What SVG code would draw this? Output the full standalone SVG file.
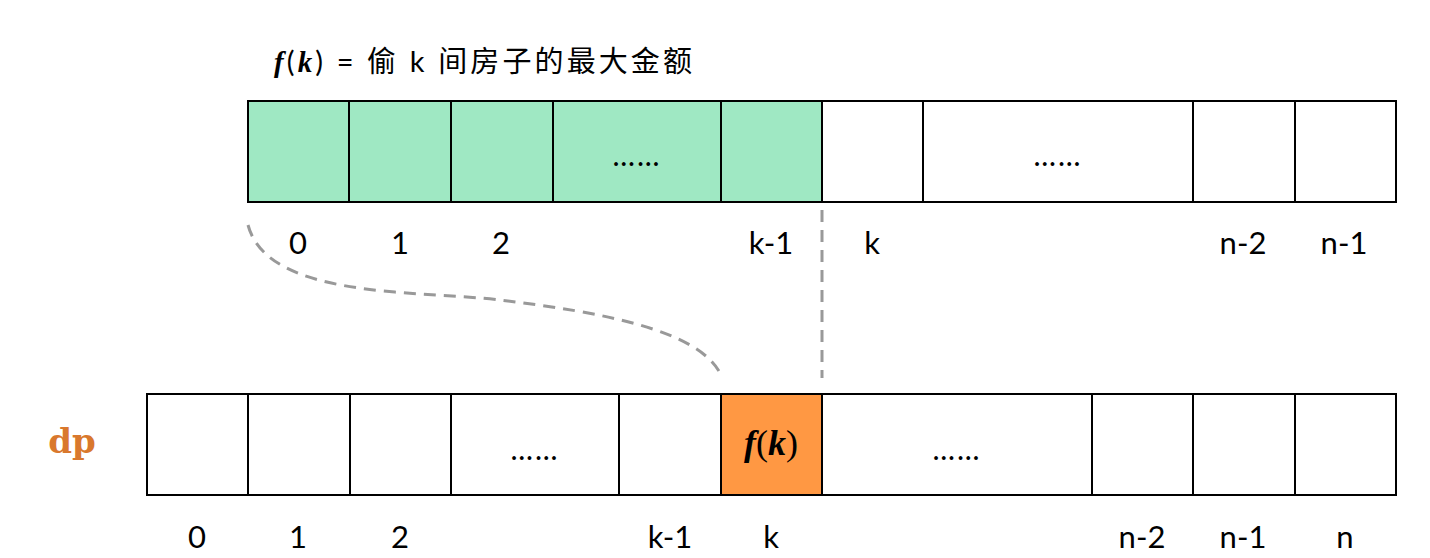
<svg xmlns="http://www.w3.org/2000/svg" width="1430" height="558" viewBox="0 0 1430 558">
<style>
.c{stroke:#000;stroke-width:2}
.g{fill:#9fe8c3}
.w{fill:#fff}
.t{font-family:Lato,"Noto Sans CJK SC",sans-serif;font-size:31px;text-anchor:middle;fill:#000}
.d{font-family:Lato,sans-serif;font-size:30px;letter-spacing:2px;text-anchor:middle;fill:#000}
.m{font-family:"Liberation Serif",serif;font-style:italic;font-weight:bold}
.dash{fill:none;stroke:#999;stroke-width:3;stroke-dasharray:12,8}
</style>
<rect width="1430" height="558" fill="#fff"/>
<g id="title"><text x="274" y="72" font-family="Lato,'Noto Sans CJK SC',sans-serif" font-size="29" textLength="418" lengthAdjust="spacing"><tspan class="m">f</tspan><tspan>(</tspan><tspan class="m">k</tspan><tspan>) = 偷 k 间房子的最大金额</tspan></text></g>
<g id="top-array">
<rect class="c g" x="248" y="101" width="101" height="101"/>
<rect class="c g" x="349" y="101" width="102" height="101"/>
<rect class="c g" x="451" y="101" width="102" height="101"/>
<rect class="c g" x="553" y="101" width="168" height="101"/>
<rect class="c g" x="721" y="101" width="101" height="101"/>
<rect class="c w" x="822" y="101" width="101" height="101"/>
<rect class="c w" x="923" y="101" width="270" height="101"/>
<rect class="c w" x="1193" y="101" width="102" height="101"/>
<rect class="c w" x="1295" y="101" width="101" height="101"/>
<text class="d" x="637" y="166">……</text>
<text class="d" x="1058" y="166">……</text>
<text class="t" x="298" y="254">0</text><text class="t" x="400" y="254">1</text><text class="t" x="501" y="254">2</text>
<text class="t" x="771" y="254">k-1</text><text class="t" x="872" y="254">k</text>
<text class="t" x="1243" y="254">n-2</text><text class="t" x="1344" y="254">n-1</text>
</g>
<g id="connectors">
<path class="dash" d="M248,225 C268,300 420,290 500,300 C600,312 700,330 721,375"/>
<path class="dash" d="M822,210 V378"/>
</g>
<g id="dp-label"><text x="72" y="453" font-family="'DejaVu Serif',serif" font-weight="bold" font-size="34" fill="#d9782d" text-anchor="middle">dp</text></g>
<g id="dp-array">
<rect class="c w" x="147" y="394" width="101" height="101"/>
<rect class="c w" x="248" y="394" width="102" height="101"/>
<rect class="c w" x="350" y="394" width="101" height="101"/>
<rect class="c w" x="451" y="394" width="168" height="101"/>
<rect class="c w" x="619" y="394" width="102" height="101"/>
<rect class="c" fill="#ff9843" x="721" y="394" width="101" height="101"/>
<rect class="c w" x="822" y="394" width="270" height="101"/>
<rect class="c w" x="1092" y="394" width="101" height="101"/>
<rect class="c w" x="1193" y="394" width="102" height="101"/>
<rect class="c w" x="1295" y="394" width="101" height="101"/>
<text class="d" x="535" y="460">……</text>
<text class="d" x="957" y="460">……</text>
<text x="771" y="455" text-anchor="middle" font-family="'Liberation Serif',serif" font-size="36"><tspan class="m">f</tspan>(<tspan class="m">k</tspan>)</text>
<text class="t" x="197" y="548">0</text><text class="t" x="298" y="548">1</text><text class="t" x="400" y="548">2</text>
<text class="t" x="670" y="548">k-1</text><text class="t" x="771" y="548">k</text>
<text class="t" x="1142" y="548">n-2</text><text class="t" x="1243" y="548">n-1</text><text class="t" x="1345" y="548">n</text>
</g>
</svg>
